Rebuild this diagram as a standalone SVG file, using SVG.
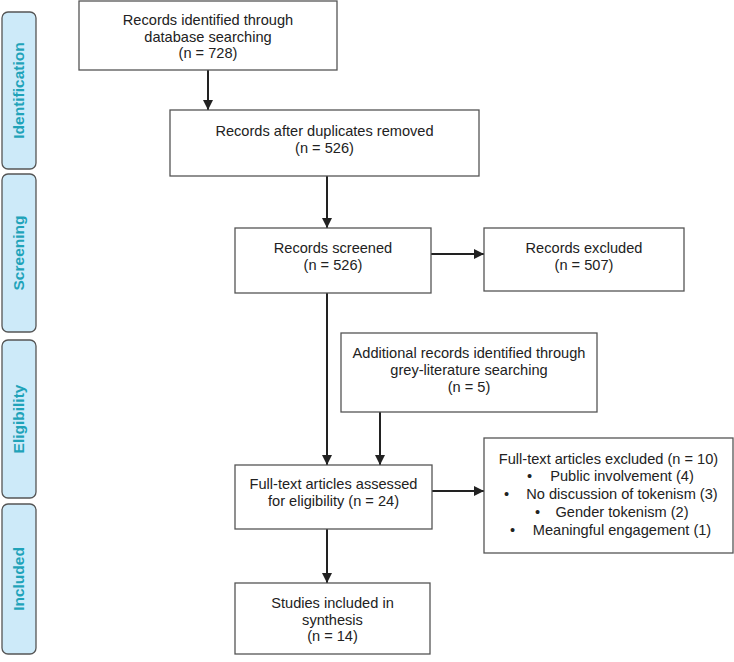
<svg xmlns="http://www.w3.org/2000/svg" width="734" height="662" viewBox="0 0 734 662">
<defs>
<marker id="ah" viewBox="0 0 10 10" refX="10" refY="5" markerWidth="5" markerHeight="5" orient="auto" markerUnits="strokeWidth">
<path d="M0,0 L10,5 L0,10 z" fill="#222"/>
</marker>
<style>
.box{fill:#fff;stroke:#555;stroke-width:1.3}
.phase{fill:#cdeaf9;stroke:#555;stroke-width:1.3}
.t{font-family:"Liberation Sans",Arial,sans-serif;font-size:14.6px;fill:#222;text-anchor:middle}
.b{font-family:"Liberation Sans",Arial,sans-serif;font-size:14.6px;fill:#222}
.pl{font-family:"Liberation Sans",Arial,sans-serif;font-size:15.5px;font-weight:bold;fill:#1fa3b9;text-anchor:middle}
.c{stroke:#222;stroke-width:2;fill:none;marker-end:url(#ah)}
</style>
</defs>
<rect width="734" height="662" fill="#fff"/>
<g id="phase-identification"><rect class="phase" x="2" y="12" width="34" height="157" rx="6"/><text class="pl" transform="translate(23.5,90.5) rotate(-90)">Identification</text></g>
<g id="phase-screening"><rect class="phase" x="2" y="174" width="34" height="158" rx="6"/><text class="pl" transform="translate(23.5,253) rotate(-90)">Screening</text></g>
<g id="phase-eligibility"><rect class="phase" x="2" y="340" width="34" height="158" rx="6"/><text class="pl" transform="translate(23.5,419) rotate(-90)">Eligibility</text></g>
<g id="phase-included"><rect class="phase" x="2" y="504" width="34" height="150" rx="6"/><text class="pl" transform="translate(23.5,579) rotate(-90)">Included</text></g>

<g id="connectors">
<line class="c" x1="208" y1="70" x2="208" y2="110"/>
<line class="c" x1="327" y1="176" x2="327" y2="228"/>
<line class="c" x1="431" y1="254" x2="484" y2="254"/>
<line class="c" x1="327" y1="293" x2="327" y2="465"/>
<line class="c" x1="380" y1="412" x2="380" y2="465"/>
<line class="c" x1="432" y1="491" x2="484" y2="491"/>
<line class="c" x1="327" y1="529" x2="327" y2="583"/>
</g>

<g id="n-identified"><rect class="box" x="79" y="1" width="258" height="69"/>
<text class="t" x="208" y="25">Records identified through</text>
<text class="t" x="208" y="41.5">database searching</text>
<text class="t" x="208" y="58">(n = 728)</text></g>

<g id="n-duplicates"><rect class="box" x="170" y="110" width="309" height="66"/>
<text class="t" x="324.5" y="136">Records after duplicates removed</text>
<text class="t" x="324.5" y="153">(n = 526)</text></g>

<g id="n-screened"><rect class="box" x="235" y="228" width="196" height="65"/>
<text class="t" x="333" y="253">Records screened</text>
<text class="t" x="333" y="270">(n = 526)</text></g>

<g id="n-excluded"><rect class="box" x="484" y="228" width="200" height="63"/>
<text class="t" x="584" y="253">Records excluded</text>
<text class="t" x="584" y="270">(n = 507)</text></g>

<g id="n-additional"><rect class="box" x="341" y="333" width="256" height="79"/>
<text class="t" x="469" y="358">Additional records identified through</text>
<text class="t" x="469" y="375">grey-literature searching</text>
<text class="t" x="469" y="392">(n = 5)</text></g>

<g id="n-fulltext"><rect class="box" x="235" y="465" width="197" height="64"/>
<text class="t" x="333.5" y="489">Full-text articles assessed</text>
<text class="t" x="333.5" y="506">for eligibility (n = 24)</text></g>

<g id="n-ft-excluded"><rect class="box" x="484" y="438" width="249" height="115"/>
<text class="t" x="608.5" y="464">Full-text articles excluded (n = 10)</text>
<text class="b" x="527" y="481">•</text><text class="t" x="622" y="481">Public involvement (4)</text>
<text class="b" x="504" y="499">•</text><text class="t" x="622" y="499">No discussion of tokenism (3)</text>
<text class="b" x="535" y="517">•</text><text class="t" x="622" y="517">Gender tokenism (2)</text>
<text class="b" x="510" y="535">•</text><text class="t" x="622" y="535">Meaningful engagement (1)</text></g>

<g id="n-included"><rect class="box" x="235" y="583" width="195" height="71"/>
<text class="t" x="332.5" y="608">Studies included in</text>
<text class="t" x="332.5" y="624.5">synthesis</text>
<text class="t" x="332.5" y="641">(n = 14)</text></g>
</svg>
